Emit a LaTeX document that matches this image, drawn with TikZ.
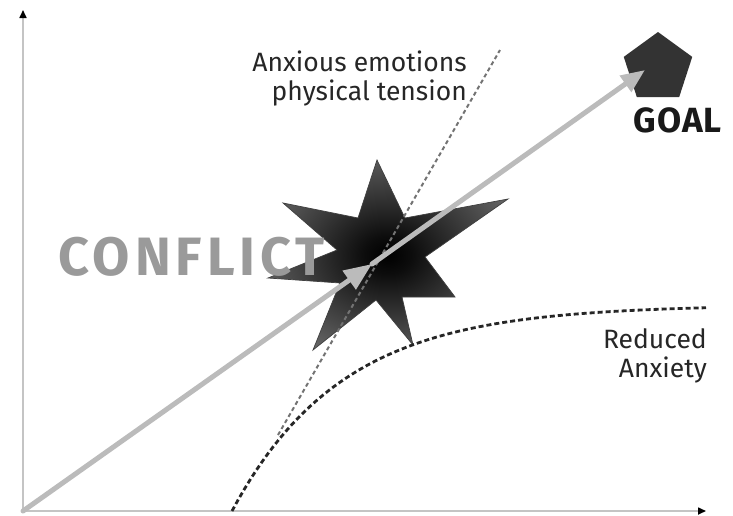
\documentclass[tikz,border=0pt]{standalone}
\usepackage{fontspec}
\setmainfont{Fira Sans}
\usetikzlibrary{arrows.meta,shapes.geometric}
\pgfdeclareradialshading{starshade}{\pgfpoint{0bp}{0bp}}{color(0bp)=(black); color(5bp)=(black!95); color(30bp)=(black!58); color(50bp)=(black!48)}
\definecolor{axisgray}{HTML}{C4C4C4}
\definecolor{arrowgray}{HTML}{BBBBBB}
\definecolor{conflictgray}{HTML}{9A9A9A}
\definecolor{goaldark}{HTML}{333333}
\tikzset{
  axisline/.style={draw=axisgray, line width=1.6pt, -{Triangle[length=8pt,width=7pt,fill=black,color=black]}},
  mainarrow/.style={draw=arrowgray, line width=5pt, line cap=round},
  midhead/.style={-{Triangle[length=28pt,width=22pt,fill=arrowgray,color=arrowgray]}},
  endhead/.style={-{Triangle[length=24pt,width=19pt,fill=arrowgray,color=arrowgray]}},
  blackdash/.style={draw=black!85, line width=2.8pt, dash pattern=on 5pt off 3pt},
  graydash/.style={draw=black!55, line width=2pt, dash pattern=on 4pt off 3pt},
  lbl/.style={font=\fontsize{26.5}{29}\selectfont, text=black!85, inner sep=0pt, align=right},
}
\begin{document}
\begin{tikzpicture}[x=1pt,y=-1pt]
\useasboundingbox (0,0) rectangle (733,515);
% coordinates
\coordinate (O) at (23,511);
\coordinate (ytop) at (23,10);
\coordinate (xend) at (706,511);
\coordinate (mid) at (372,264);
\coordinate (gtip) at (645,70);
\coordinate (gdA) at (278,435);
\coordinate (gdB) at (500,50);
% axes
\draw[axisline] (O) -- (ytop);
\draw[axisline] (O) -- (xend);
% star
\shadedraw[shading=starshade, draw=black!75, line width=0.7pt]
  (377,160) -- (405,218) -- (508,199) -- (425,257) -- (455,297) -- (402,297)
  -- (413,345) -- (376,300) -- (313,350) -- (340,283) -- (268,278) -- (337,250)
  -- (283,203) -- (358,218) -- cycle;
% reduced anxiety curve
\draw[blackdash] plot[domain=232:706, samples=80] (\x, {305+206*exp(-(\x-232)/110)});
% anxious emotions line
\draw[graydash] (gdA) -- (gdB);
% conflict text
\node[anchor=base west, inner sep=0pt, text=conflictgray, font=\fontsize{54}{54}\selectfont\bfseries\addfontfeature{LetterSpace=9}] (conflict) at (58,275) {CONFLICT};
% goal pentagon
\node[regular polygon, regular polygon sides=5, minimum size=72pt, inner sep=0pt, fill=goaldark] (goal) at (658,68) {};
% main arrow
\draw[mainarrow, midhead] (O) -- (mid);
\draw[mainarrow, endhead] (mid) -- (gtip);
% labels
\node[anchor=base east, inner sep=0pt, text=black!90, font=\fontsize{35}{35}\selectfont\bfseries\addfontfeature{LetterSpace=3}] (goaltxt) at (722,132) {GOAL};
\node[lbl, anchor=base east] (anx1) at (467,71) {Anxious emotions};
\node[lbl, anchor=base east] (anx2) at (467,100) {physical tension};
\node[lbl, anchor=base east] (red1) at (707,348) {Reduced};
\node[lbl, anchor=base east] (red2) at (707,377) {Anxiety};
\end{tikzpicture}
\end{document}
